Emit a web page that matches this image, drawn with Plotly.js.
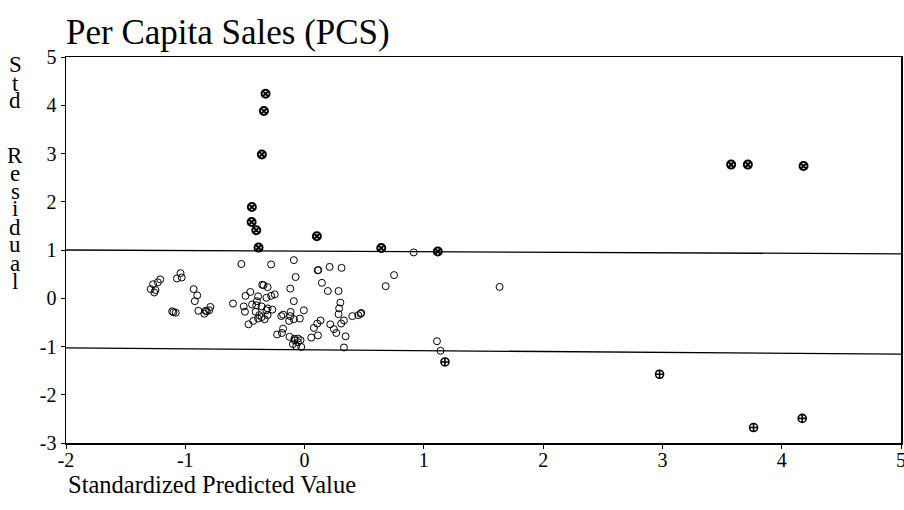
<!DOCTYPE html>
<html>
<head>
<meta charset="utf-8">
<script src="https://cdn.plot.ly/plotly-3.0.1.min.js"></script>
<style>html,body{margin:0;padding:0;background:#fff;}#chart{width:904px;height:510px;}</style>
</head>
<body>
<div id="chart"></div>
<script>
// Regular cases (open circles)
const circleX = [
  -1.21,-1.23,-1.27,-1.29,-1.25,-1.26,
  -1.04,-1.07,-1.03,
  -0.93,-0.90,-0.92,
  -1.11,-1.08,-1.10,
  -0.89,-0.83,-0.84,-0.82,-0.80,-0.79,
  -0.53,-0.28,-0.09,-0.075,
  -0.355,-0.344,-0.31,
  -0.12,-0.455,-0.495,-0.39,
  -0.32,-0.28,-0.25,
  -0.09,-0.60,-0.51,-0.50,
  -0.44,-0.40,-0.405,-0.36,
  -0.32,-0.31,-0.41,-0.38,-0.39,-0.36,-0.335,-0.31,-0.27,
  -0.43,-0.47,
  -0.195,-0.18,-0.12,-0.13,-0.09,-0.04,-0.006,-0.117,
  -0.18,-0.19,-0.23,
  -0.126,-0.084,-0.056,-0.034,-0.098,-0.07,-0.028,-0.056,-0.085,
  0.11,0.115,0.21,0.31,
  0.145,0.195,0.285,0.68,0.75,0.915,1.635,
  0.30,0.29,0.285,0.33,0.40,0.45,0.47,0.475,
  0.134,0.106,0.078,0.215,0.246,0.266,0.307,
  0.112,0.056,0.344,0.33,
  1.11,1.14
];
const circleY = [
  0.39,0.33,0.29,0.19,0.17,0.12,
  0.52,0.41,0.43,
  0.19,0.06,-0.06,
  -0.27,-0.30,-0.29,
  -0.26,-0.26,-0.32,-0.27,-0.25,-0.18,
  0.71,0.70,0.79,0.44,
  0.28,0.27,0.23,
  0.20,0.13,0.05,0.04,
  0.01,0.05,0.08,
  -0.06,-0.11,-0.17,-0.28,
  -0.13,-0.06,-0.145,-0.17,
  -0.25,-0.21,-0.28,-0.35,-0.42,-0.39,-0.435,-0.35,-0.235,
  -0.47,-0.54,
  -0.37,-0.34,-0.37,-0.47,-0.435,-0.42,-0.25,-0.284,
  -0.63,-0.72,-0.75,
  -0.80,-0.87,-0.835,-0.87,-0.95,-0.995,-1.01,-0.91,-0.84,
  0.58,0.585,0.65,0.63,
  0.32,0.15,0.15,0.25,0.48,0.95,0.235,
  -0.09,-0.21,-0.33,-0.46,-0.37,-0.35,-0.32,-0.305,
  -0.46,-0.525,-0.615,-0.54,-0.64,-0.72,-0.525,
  -0.77,-0.815,-0.79,-1.02,
  -0.89,-1.09
];
// Cases with large positive residuals (circle with x)
const highX = [-0.327,-0.341,-0.358,-0.442,-0.444,-0.405,-0.386,0.103,0.643,1.117,3.576,3.716,4.183];
const highY = [4.24,3.88,2.98,1.89,1.58,1.41,1.05,1.285,1.04,0.97,2.77,2.77,2.74];
// Cases with large negative residuals (circle with cross)
const lowX = [1.177,2.976,3.764,4.172];
const lowY = [-1.32,-1.575,-2.68,-2.49];
// Reference band lines
const bandX = [-2,5];
const upperY = [1.0,0.92];
const lowerY = [-1.03,-1.16];

const xTicks = [-2,-1,0,1,2,3,4,5];
const yTicks = [-3,-2,-1,0,1,2,3,4,5];
const titleText = "Per Capita Sales (PCS)";
const xTitle = "Standardized Predicted Value";
const yTitleLetters = ["S","t","d","","","R","e","s","i","d","u","a","l"];

const FONT = "Liberation Serif";

const traces = [
  {x:bandX, y:upperY, mode:"lines", line:{color:"#000", width:1.3}, hoverinfo:"skip"},
  {x:bandX, y:lowerY, mode:"lines", line:{color:"#000", width:1.3}, hoverinfo:"skip"},
  {x:circleX, y:circleY, mode:"markers", marker:{symbol:"circle-open", size:7, color:"#000", line:{width:1}}},
  {x:highX, y:highY, mode:"markers", marker:{symbol:"circle-x-open", size:8, color:"#000", line:{width:2}}},
  {x:lowX, y:lowY, mode:"markers", marker:{symbol:"circle-cross-open", size:8, color:"#000", line:{width:1.6}}}
];

// plot area pixel geometry
const L=66, R=3, T=57, B=67, W=904, H=510;
const plotH = H - T - B;
const annotations = [];
const letterTop = 65, letterStep = 18;
yTitleLetters.forEach((ch,i)=>{
  if(!ch) return;
  const py = letterTop + i*letterStep;
  annotations.push({text:ch, xref:"paper", yref:"paper", x:(15-L)/(W-L-R), y:(H-B-py)/plotH,
    xanchor:"center", yanchor:"middle", showarrow:false, font:{family:FONT, size:23, color:"#000"}});
});
annotations.push({text:xTitle, xref:"paper", yref:"paper", x:0, y:(H-B-484)/plotH,
  xanchor:"left", yanchor:"middle", showarrow:false, font:{family:FONT, size:24.5, color:"#000"}});

const axisCommon = {showgrid:false, zeroline:false, showline:true, mirror:true, linecolor:"#000", linewidth:1.5,
  ticks:"outside", ticklen:4, tickcolor:"#000", ticklabeloverflow:"allow",
  tickfont:{family:FONT, size:20, color:"#000"}};

const layout = {
  width:W, height:H,
  margin:{l:L, r:R, t:T, b:B},
  paper_bgcolor:"#fff", plot_bgcolor:"#fff",
  showlegend:false,
  title:{text:titleText, xref:"container", yref:"container", x:66/W, xanchor:"left", y:1-32/H, yanchor:"middle",
    font:{family:FONT, size:35, color:"#000"}},
  xaxis:Object.assign({range:[-2,5], tickvals:xTicks, ticktext:xTicks.map(String), ticklabelstandoff:-6}, axisCommon),
  yaxis:Object.assign({range:[-3,5], tickvals:yTicks, ticktext:yTicks.map(String)}, axisCommon),
  annotations:annotations
};
Plotly.newPlot("chart", traces, layout, {staticPlot:true, displayModeBar:false});
</script>
</body>
</html>
